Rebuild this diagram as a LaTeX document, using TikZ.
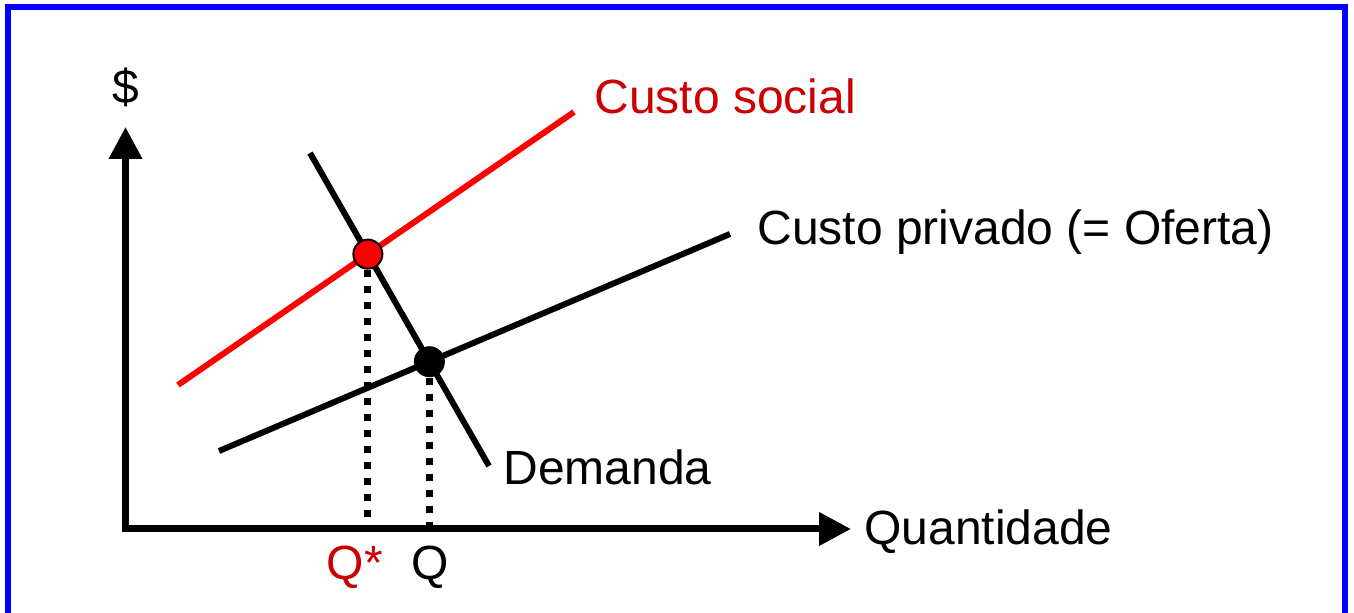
\documentclass[tikz,border=0pt]{standalone}
\usepackage{fontspec}
\setmainfont{Liberation Sans}
\usetikzlibrary{arrows.meta}
\definecolor{lred}{HTML}{FF0000}
\definecolor{tred}{HTML}{CC0000}
\definecolor{fblue}{HTML}{0000FF}
\begin{document}
\begin{tikzpicture}[x=0.5pt,y=-0.5pt,
  lbl/.style={inner sep=0pt,anchor=base west,font=\fontsize{24}{28}\selectfont},
  curveline/.style={line width=3pt},
  axisline/.style={line width=3.5pt,line join=miter,{Triangle[length=16pt,width=16pt]}-{Triangle[length=16pt,width=16pt]}},
  guide/.style={line width=3.5pt,dash pattern=on 3.5pt off 4.5pt},
  eqdot/.style={circle,inner sep=0pt,minimum size=14.5pt,line width=1pt}]
\clip (0,0) rectangle (1354,613);
\draw[fblue,line width=3pt] (8,7) rectangle (1345,650);
% axes
\coordinate (ytip) at (125.5,127);
\coordinate (origin) at (125.5,529);
\coordinate (xtip) at (851,529);
\draw[axisline] (ytip) -- (origin) -- (xtip);
% curves
\coordinate (s1) at (178,385);
\coordinate (s2) at (574,112);
\coordinate (p1) at (219,451);
\coordinate (p2) at (730,234);
\coordinate (d1) at (310,153);
\coordinate (d2) at (489,466);
\draw[curveline,lred] (s1) -- (s2);
\draw[curveline] (p1) -- (p2);
\draw[curveline] (d1) -- (d2);
% intersections
\coordinate (qs) at (intersection of s1--s2 and d1--d2);
\coordinate (qe) at (intersection of p1--p2 and d1--d2);
\draw[guide] (qs) -- (qs |- origin);
\draw[guide] (qe) -- (qe |- origin);
\node[eqdot,fill=lred,draw=black] (sdot) at (qs) {};
\node[eqdot,fill=black,minimum size=15.5pt] (edot) at (qe) {};
% labels
\node[lbl,anchor=base] (dollar) at (126,104) {\$};
\node[lbl,text=tred] (social) at (594,114) {Custo social};
\node[lbl] (privado) at (757,245) {Custo privado (= Oferta)};
\node[lbl] (demanda) at (503,485) {Demanda};
\node[lbl] (quant) at (864,545) {Quantidade};
\node[lbl,anchor=base,text=tred] (qstar) at (355,580) {Q*};
\node[lbl,anchor=base] (qeq) at (430,580) {Q};
\end{tikzpicture}
\end{document}
